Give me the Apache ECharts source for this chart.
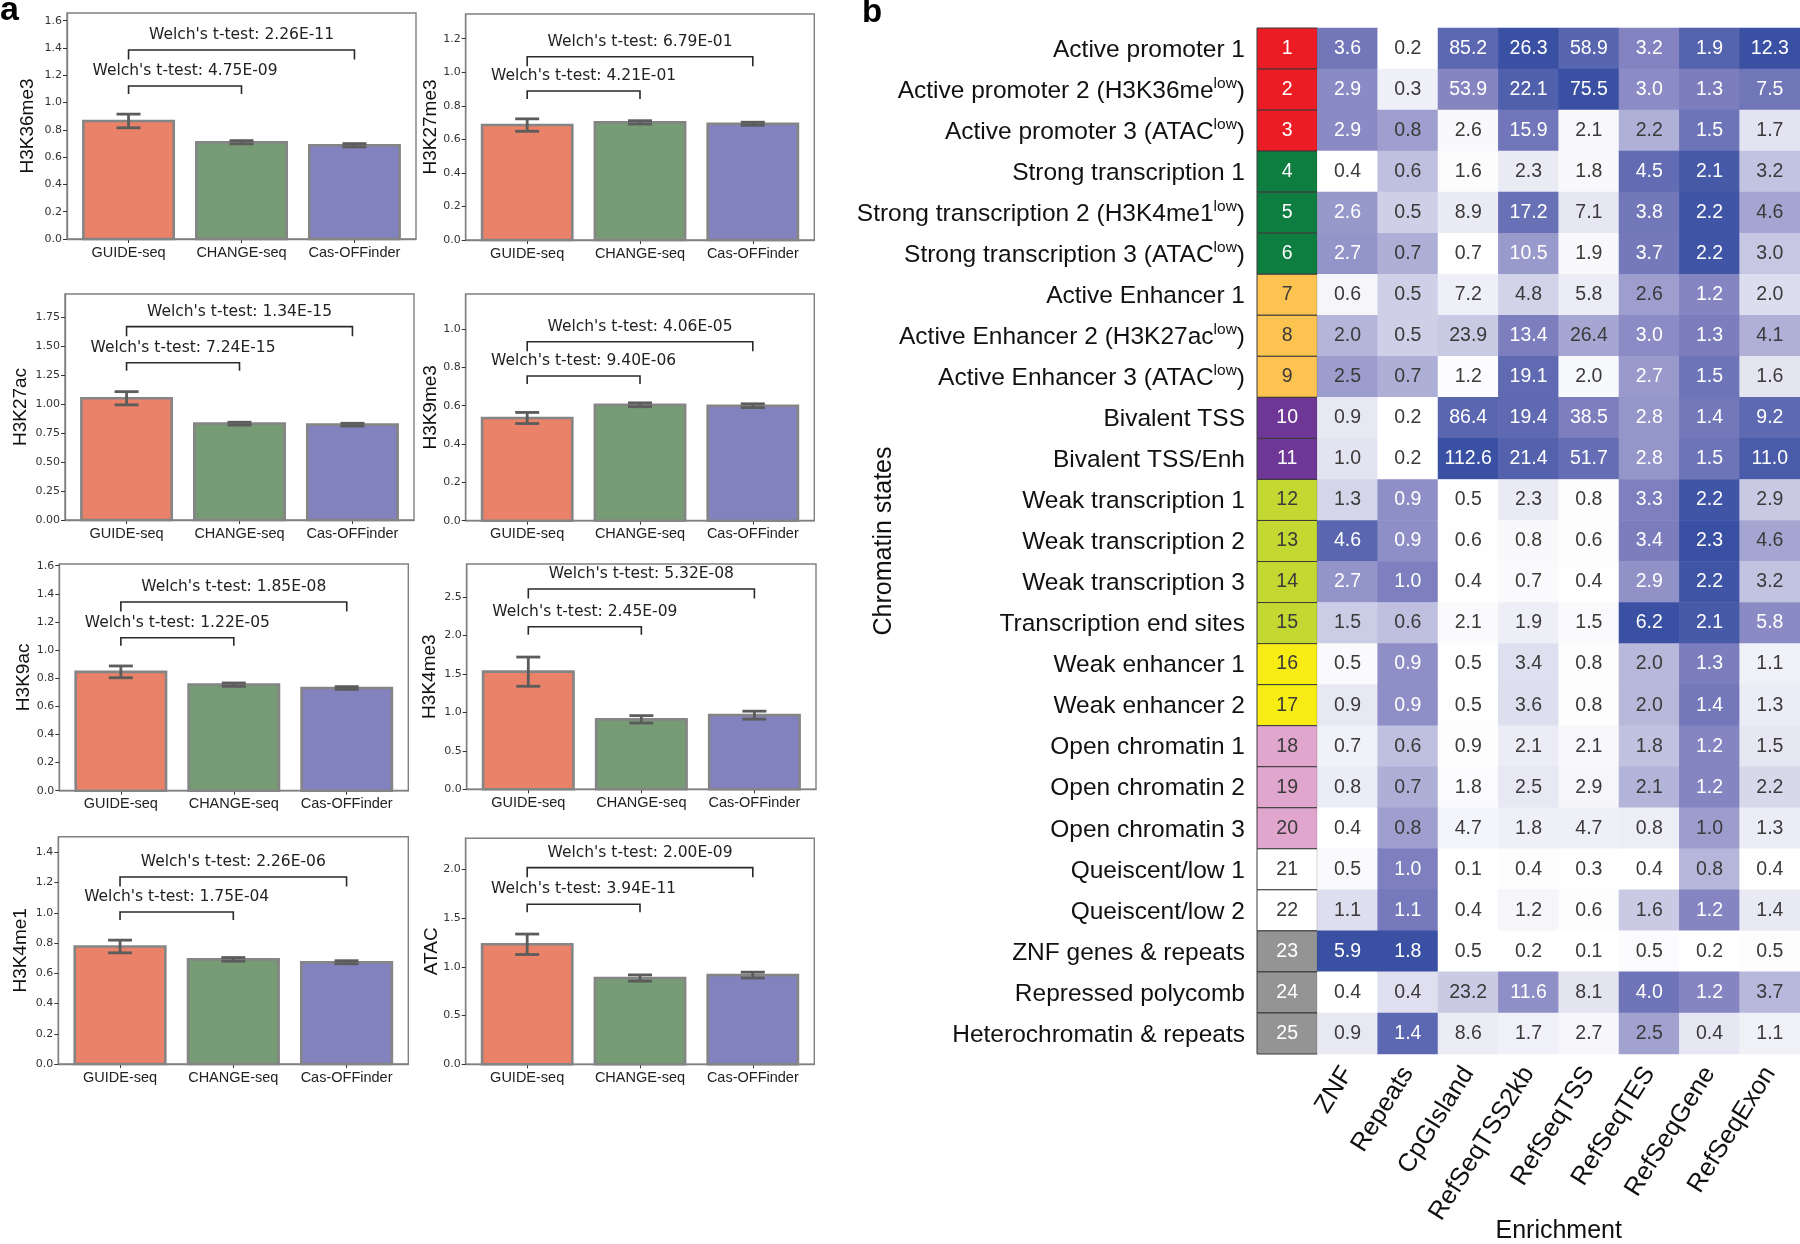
<!DOCTYPE html>
<html>
<head>
<meta charset="utf-8">
<script src="https://cdn.jsdelivr.net/npm/echarts@6/dist/echarts.min.js"></script>
<style>html,body{margin:0;padding:0;background:#fff}#c{width:1800px;height:1244px}</style>
</head>
<body>
<div id="c"></div>
<script>
// ---------------- DATA: panel a ----------------
const methods = ['GUIDE-seq', 'CHANGE-seq', 'Cas-OFFinder'];
const marks = ['H3K36me3', 'H3K27me3', 'H3K27ac', 'H3K9me3', 'H3K9ac', 'H3K4me3', 'H3K4me1', 'ATAC'];
const barMeans = [
  [0.865, 0.709, 0.687],
  [0.685, 0.701, 0.693],
  [1.051, 0.832, 0.823],
  [0.536, 0.605, 0.600],
  [0.845, 0.754, 0.730],
  [1.530, 0.910, 0.964],
  [0.777, 0.692, 0.673],
  [1.231, 0.885, 0.915]
];
const barErrors = [
  [0.050, 0.012, 0.012],
  [0.037, 0.010, 0.009],
  [0.057, 0.012, 0.012],
  [0.029, 0.010, 0.010],
  [0.042, 0.012, 0.010],
  [0.190, 0.048, 0.052],
  [0.042, 0.012, 0.010],
  [0.105, 0.032, 0.030]
];
const pGuideVsChange = ['4.75E-09', '4.21E-01', '7.24E-15', '9.40E-06', '1.22E-05', '2.45E-09', '1.75E-04', '3.94E-11'];
const pGuideVsCas    = ['2.26E-11', '6.79E-01', '1.34E-15', '4.06E-05', '1.85E-08', '5.32E-08', '2.26E-06', '2.00E-09'];
const bracketLevel1 = [1.121, 0.888, 1.358, 0.755, 1.088, 2.114, 1.005, 1.641];
const bracketLevel2 = [1.385, 1.092, 1.669, 0.934, 1.342, 2.605, 1.237, 2.017];
const yAxisMax  = [1.656, 1.347, 1.951, 1.183, 1.612, 2.93, 1.503, 2.318];
const yTickStep = [0.2, 0.2, 0.25, 0.2, 0.2, 0.5, 0.2, 0.5];
const yTickTop  = [1.6, 1.2, 1.75, 1.0, 1.6, 2.5, 1.4, 2.0];
const yTickDecimals = [1, 1, 2, 1, 1, 1, 1, 1];

// ---------------- DATA: panel b ----------------
const stateNames = [
  'Active promoter 1', 'Active promoter 2 (H3K36me^low)', 'Active promoter 3 (ATAC^low)',
  'Strong transcription 1', 'Strong transcription 2 (H3K4me1^low)', 'Strong transcription 3 (ATAC^low)',
  'Active Enhancer 1', 'Active Enhancer 2 (H3K27ac^low)', 'Active Enhancer 3 (ATAC^low)',
  'Bivalent TSS', 'Bivalent TSS/Enh',
  'Weak transcription 1', 'Weak transcription 2', 'Weak transcription 3', 'Transcription end sites',
  'Weak enhancer 1', 'Weak enhancer 2',
  'Open chromatin 1', 'Open chromatin 2', 'Open chromatin 3',
  'Queiscent/low 1', 'Queiscent/low 2',
  'ZNF genes & repeats', 'Repressed polycomb', 'Heterochromatin & repeats'
];
const enrichmentCols = ['ZNF', 'Repeats', 'CpGIsland', 'RefSeqTSS2kb', 'RefSeqTSS', 'RefSeqTES', 'RefSeqGene', 'RefSeqExon'];
const znf          = [3.6,2.9,2.9,0.4,2.6,2.7,0.6,2.0,2.5,0.9,1.0,1.3,4.6,2.7,1.5,0.5,0.9,0.7,0.8,0.4,0.5,1.1,5.9,0.4,0.9];
const repeats      = [0.2,0.3,0.8,0.6,0.5,0.7,0.5,0.5,0.7,0.2,0.2,0.9,0.9,1.0,0.6,0.9,0.9,0.6,0.7,0.8,1.0,1.1,1.8,0.4,1.4];
const cpgIsland    = [85.2,53.9,2.6,1.6,8.9,0.7,7.2,23.9,1.2,86.4,112.6,0.5,0.6,0.4,2.1,0.5,0.5,0.9,1.8,4.7,0.1,0.4,0.5,23.2,8.6];
const refSeqTSS2kb = [26.3,22.1,15.9,2.3,17.2,10.5,4.8,13.4,19.1,19.4,21.4,2.3,0.8,0.7,1.9,3.4,3.6,2.1,2.5,1.8,0.4,1.2,0.2,11.6,1.7];
const refSeqTSS    = [58.9,75.5,2.1,1.8,7.1,1.9,5.8,26.4,2.0,38.5,51.7,0.8,0.6,0.4,1.5,0.8,0.8,2.1,2.9,4.7,0.3,0.6,0.1,8.1,2.7];
const refSeqTES    = [3.2,3.0,2.2,4.5,3.8,3.7,2.6,3.0,2.7,2.8,2.8,3.3,3.4,2.9,6.2,2.0,2.0,1.8,2.1,0.8,0.4,1.6,0.5,4.0,2.5];
const refSeqGene   = [1.9,1.3,1.5,2.1,2.2,2.2,1.2,1.3,1.5,1.4,1.5,2.2,2.3,2.2,2.1,1.3,1.4,1.2,1.2,1.0,0.8,1.2,0.2,1.2,0.4];
const refSeqExon   = [12.3,7.5,1.7,3.2,4.6,3.0,2.0,4.1,1.6,9.2,11.0,2.9,4.6,3.2,5.8,1.1,1.3,1.5,2.2,1.3,0.4,1.4,0.5,3.7,1.1];

// ---------------- STYLE / LAYOUT ----------------
const barFill = ['#e98269', '#779b74', '#8283be'];
const stateColors = ['#ec1c24','#ec1c24','#ec1c24','#0e7d40','#0e7d40','#0e7d40','#fdc350','#fdc350','#fdc350',
  '#6e3796','#6e3796','#c3d830','#c3d830','#c3d830','#c3d830','#f7ec13','#f7ec13','#e1a6cd','#e1a6cd','#e1a6cd',
  '#ffffff','#ffffff','#949494','#949494','#949494'];
const stateTextDark = [0,0,0,0,0,0,1,1,1,0,0,1,1,1,1,1,1,1,1,1,1,1,0,0,0];
const panelBoxes = [
  [67, 13, 416, 239], [465.7, 14, 814.3, 240],
  [65, 294, 414, 520], [465.7, 294, 814.3, 520.7],
  [59.3, 564, 408.3, 790.7], [466.7, 564, 816, 789.3],
  [58.3, 836.7, 408.3, 1064], [465.7, 838.3, 814.3, 1064.3]
];
const yNameGap = [30, 25, 35, 25, 26, 27, 28, 24];

const enrichment = [znf, repeats, cpgIsland, refSeqTSS2kb, refSeqTSS, refSeqTES, refSeqGene, refSeqExon];
const colMin = enrichment.map(a => Math.min.apply(null, a));
const colMax = enrichment.map(a => Math.max.apply(null, a));

function mix(a, b, t) { return a.map((v, i) => Math.round(v + (b[i] - v) * t)); }
function cellColor(t) {
  const c0 = [255, 255, 255], c1 = [126, 127, 190], c2 = [58, 81, 163];
  const c = t < 0.5 ? mix(c0, c1, t / 0.5) : mix(c1, c2, (t - 0.5) / 0.5);
  return 'rgb(' + c.join(',') + ')';
}

const grids = [], xAxes = [], yAxes = [], series = [];

marks.forEach((mark, i) => {
  const b = panelBoxes[i];
  grids.push({ left: b[0], top: b[1], width: b[2] - b[0], height: b[3] - b[1], outerBoundsMode: 'none',
    show: true, borderColor: '#808080', borderWidth: 1.4, backgroundColor: 'transparent' });
  const ticks = [];
  for (let k = 0; k * yTickStep[i] <= yTickTop[i] + 1e-9; k++) ticks.push(+(k * yTickStep[i]).toFixed(4));
  xAxes.push({ type: 'value', gridIndex: i, min: -0.545, max: 2.545,
    axisLine: { show: true, onZero: false, lineStyle: { color: '#808080', width: 1.4 } },
    axisTick: { show: true, length: 4, customValues: [0, 1, 2], lineStyle: { color: '#333' } },
    axisLabel: { customValues: [0, 1, 2], formatter: v => methods[Math.round(v)] || '', margin: 6,
      fontFamily: 'Liberation Sans', fontSize: 14.5, color: '#222' },
    splitLine: { show: false } });
  yAxes.push({ type: 'value', gridIndex: i, min: 0, max: yAxisMax[i],
    name: mark, nameLocation: 'middle', nameRotate: 90, nameGap: yNameGap[i], nameMoveOverlap: false,
    nameTextStyle: { fontFamily: 'Liberation Sans', fontSize: 19, color: '#111' },
    axisLine: { show: true, onZero: false, lineStyle: { color: '#808080', width: 1.4 } },
    axisTick: { show: true, length: 4, customValues: ticks, lineStyle: { color: '#333' } },
    axisLabel: { customValues: ticks, formatter: v => v.toFixed(yTickDecimals[i]), margin: 5,
      fontFamily: 'DejaVu Sans', fontSize: 11, color: '#333' },
    splitLine: { show: false } });
  // bars + error bars
  series.push({
    type: 'custom', xAxisIndex: i, yAxisIndex: i, silent: true,
    data: methods.map((m, j) => [j, barMeans[i][j], barErrors[i][j]]),
    renderItem: (params, api) => {
      const j = api.value(0), v = api.value(1), e = api.value(2);
      const p0 = api.coord([j - 0.4, 0]), p1 = api.coord([j + 0.4, v]);
      const top = api.coord([j, v + e]), bot = api.coord([j, v - e]);
      const cap = 12, es = { stroke: '#5c5c5c', lineWidth: 2.8 };
      return { type: 'group', children: [
        { type: 'rect', shape: { x: p0[0], y: p1[1], width: p1[0] - p0[0], height: p0[1] - p1[1] },
          style: { fill: barFill[j], stroke: '#858585', lineWidth: 2.6 } },
        { type: 'line', shape: { x1: top[0], y1: top[1], x2: bot[0], y2: bot[1] }, style: es },
        { type: 'line', shape: { x1: top[0] - cap, y1: top[1], x2: top[0] + cap, y2: top[1] }, style: es },
        { type: 'line', shape: { x1: bot[0] - cap, y1: bot[1], x2: bot[0] + cap, y2: bot[1] }, style: es }
      ] };
    }
  });
  // significance brackets
  series.push({
    type: 'custom', xAxisIndex: i, yAxisIndex: i, silent: true,
    data: [[0, 1, bracketLevel1[i]], [0, 2, bracketLevel2[i]]],
    renderItem: (params, api) => {
      const k = params.dataIndex;
      const a = api.coord([api.value(0), api.value(2)]), c = api.coord([api.value(1), api.value(2)]);
      const leg = k === 0 ? 8 : 9.5;
      const txt = "Welch's t-test: " + (k === 0 ? pGuideVsChange[i] : pGuideVsCas[i]);
      return { type: 'group', children: [
        { type: 'polyline', shape: { points: [[a[0], a[1] + leg], [a[0], a[1]], [c[0], c[1]], [c[0], c[1] + leg]] },
          style: { stroke: '#2a2a2a', lineWidth: 1.6, fill: null } },
        { type: 'text', x: (a[0] + c[0]) / 2, y: a[1] - 7,
          style: { text: txt, align: 'center', verticalAlign: 'bottom',
            fontFamily: 'DejaVu Sans', fontSize: 15.5, fill: '#222' } }
      ] };
    }
  });
});

// ---------- panel b ----------
const hmTop = 28, hmHeight = 1026;
const G_STATE = grids.length;
grids.push({ left: 1257, top: hmTop, width: 60.4, height: hmHeight, outerBoundsMode: 'none' });
const G_DATA = grids.length;
grids.push({ left: 1317.4, top: hmTop, width: 482.6, height: hmHeight, outerBoundsMode: 'none' });

function richLabel(s) {
  const idx = s.indexOf('^');
  if (idx < 0) return '{m|' + s + '}';
  const before = s.slice(0, idx);
  const sup = s.slice(idx + 1).replace(')', '');
  return '{m|' + before + '}{s|' + sup + '}{m|)}';
}

xAxes.push({ type: 'category', gridIndex: G_STATE, data: [''], show: false });
yAxes.push({ type: 'category', gridIndex: G_STATE, data: stateNames, inverse: true,
  axisLine: { show: false }, axisTick: { show: false },
  name: 'Chromatin states', nameLocation: 'middle', nameRotate: 90, nameGap: 360, nameMoveOverlap: false,
  nameTextStyle: { fontFamily: 'Liberation Sans', fontSize: 25, color: '#111' },
  axisLabel: { interval: 0, margin: 12, formatter: v => richLabel(v),
    rich: {
      m: { fontFamily: 'Liberation Sans', fontSize: 24.5, color: '#111', lineHeight: 28, verticalAlign: 'bottom' },
      s: { fontFamily: 'Liberation Sans', fontSize: 15.5, color: '#111', lineHeight: 28, verticalAlign: 'top' }
    } } });
xAxes.push({ type: 'category', gridIndex: G_DATA, data: enrichmentCols, position: 'bottom',
  axisLine: { show: false }, axisTick: { show: false },
  axisLabel: { interval: 0, rotate: 58, margin: 15, fontFamily: 'Liberation Sans', fontSize: 25.5, color: '#111' },
  name: 'Enrichment', nameLocation: 'middle', nameGap: 165, nameMoveOverlap: false,
  nameTextStyle: { fontFamily: 'Liberation Sans', fontSize: 25, color: '#111' } });
yAxes.push({ type: 'category', gridIndex: G_DATA, data: stateNames.map((s, r) => r), inverse: true, show: false });

const stateData = stateNames.map((s, r) => [0, r, r + 1]);
series.push({
  type: 'custom', xAxisIndex: G_STATE, yAxisIndex: G_STATE, silent: true, data: stateData,
  renderItem: (params, api) => {
    const r = api.value(1);
    const pt = api.coord([0, r]), sz = api.size([1, 1]);
    return { type: 'group', children: [
      { type: 'rect', shape: { x: pt[0] - sz[0] / 2, y: pt[1] - sz[1] / 2, width: sz[0], height: sz[1] },
        style: { fill: stateColors[r], stroke: '#3a3a3a', lineWidth: 1 } },
      { type: 'text', x: pt[0], y: pt[1], style: { text: String(api.value(2)), align: 'center', verticalAlign: 'middle',
        fontFamily: 'Liberation Sans', fontSize: 19.5, fill: stateTextDark[r] ? '#3a3a3a' : '#ffffff' } }
    ] };
  }
});

const cellData = [];
enrichment.forEach((col, c) => col.forEach((v, r) => cellData.push([c, r, v])));
series.push({
  type: 'custom', xAxisIndex: G_DATA, yAxisIndex: G_DATA, silent: true, data: cellData,
  renderItem: (params, api) => {
    const c = api.value(0), r = api.value(1), v = api.value(2);
    const t = (v - colMin[c]) / (colMax[c] - colMin[c]);
    const pt = api.coord([c, r]), sz = api.size([1, 1]);
    return { type: 'group', children: [
      { type: 'rect', shape: { x: pt[0] - sz[0] / 2 - 0.3, y: pt[1] - sz[1] / 2 - 0.3, width: sz[0] + 0.6, height: sz[1] + 0.6 },
        style: { fill: cellColor(t) } },
      { type: 'text', x: pt[0], y: pt[1], style: { text: v.toFixed(1), align: 'center', verticalAlign: 'middle',
        fontFamily: 'Liberation Sans', fontSize: 19.5, fill: t >= 0.388 ? '#ffffff' : '#3a3a3a' } }
    ] };
  }
});

const option = {
  animation: false,
  backgroundColor: '#ffffff',
  grid: grids, xAxis: xAxes, yAxis: yAxes, series: series,
  graphic: [
    { type: 'text', left: 0, top: -6, style: { text: 'a', fontFamily: 'Liberation Sans', fontWeight: 'bold', fontSize: 34, fill: '#000' } },
    { type: 'text', left: 862, top: -4, style: { text: 'b', fontFamily: 'Liberation Sans', fontWeight: 'bold', fontSize: 33, fill: '#000' } }
  ]
};
const chart = echarts.init(document.getElementById('c'), null, { renderer: 'canvas', width: 1800, height: 1244 });
chart.setOption(option);
</script>
</body>
</html>
